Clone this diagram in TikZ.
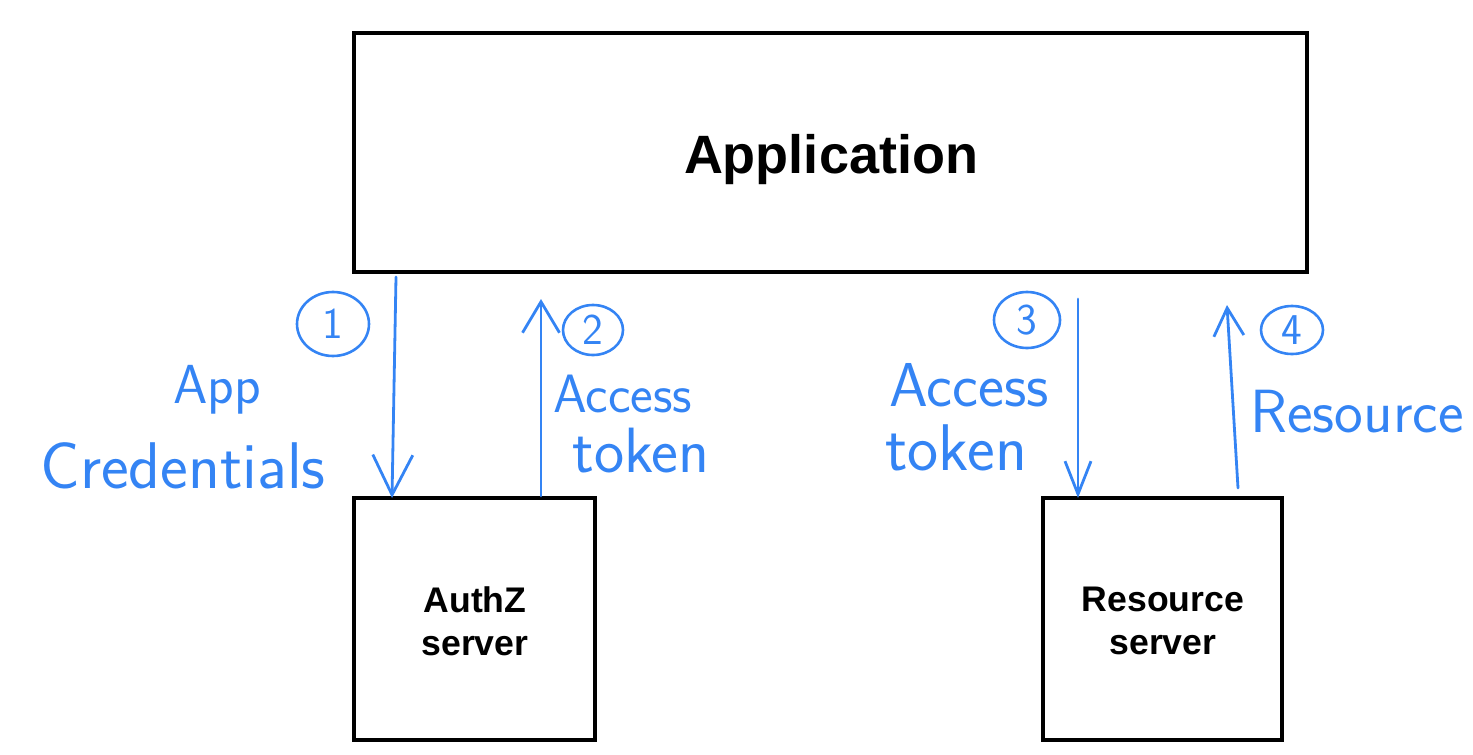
\documentclass[tikz,border=0pt]{standalone}
\usepackage{fontspec}
\setmainfont{Liberation Sans}
\newfontfamily\hand{Latin Modern Sans}
\usetikzlibrary{arrows.meta,calc,shapes.geometric}
\definecolor{pen}{RGB}{52,132,244}
\tikzset{
  box/.style={draw=black, line width=2pt, inner sep=0pt, fill=white},
  boxtext/.style={font=\bfseries\fontsize{17.8pt}{21.5pt}\selectfont, align=center},
  flow/.style={draw=pen, line width=1.4pt, line cap=round},
  hw/.style={text=pen, font=\hand\fontsize{29pt}{30pt}\selectfont, anchor=base west, inner sep=0pt},
  num/.style={ellipse, draw=pen, line width=1.3pt, text=pen, inner sep=0pt, font=\hand\fontsize{22pt}{23pt}\selectfont},
}
\begin{document}
\begin{tikzpicture}[x=0.5pt, y=-0.5pt]
\useasboundingbox (0,0) rectangle (1473,755);
% boxes
\node[box, minimum width=476.5pt, minimum height=119.5pt] (app) at (830.5,152.5) {};
\node[font=\bfseries\fontsize{27pt}{30pt}\selectfont] (apptext) at (831,160) {Application};
\node[box, minimum width=120.5pt, minimum height=121pt] (auth) at (474.5,619) {};
\node[boxtext] (authtext) at (475,621) {AuthZ\\server};
\node[box, minimum width=119.5pt, minimum height=121pt] (res) at (1162.5,619) {};
\node[boxtext] (restext) at (1163,621) {Resource\\server};
% arrows
\draw[flow, -{Straight Barb[length=20pt, width=20pt, line width=1.4pt]}]
  ($(app.south west)+(44,3)$) -- ($(auth.north west)+(40,2)$);
\draw[flow, -{Straight Barb[length=15.5pt, width=18.5pt, line width=1.4pt]}]
  ($(auth.north west)+(189,0)$) -- ($(app.south west)+(189,25)$);
\draw[flow, -{Straight Barb[length=16.5pt, width=13pt, line width=1.4pt]}]
  ($(app.south west)+(726,25)$) -- ($(res.north west)+(37,2)$);
\draw[flow, -{Straight Barb[length=14pt, width=15pt, line width=1.4pt]}]
  ($(res.north west)+(197,-8)$) -- ($(app.south west)+(875,31)$);
% circled numbers
\node[num, minimum width=36pt, minimum height=32pt] (n1) at (333,324) {1};
\node[num, minimum width=30pt, minimum height=25pt] (n2) at (593,330) {2};
\node[num, minimum width=33pt, minimum height=28pt] (n3) at (1027,320) {3};
\node[num, minimum width=31pt, minimum height=24pt] (n4) at (1292,330) {4};
% labels
\node[hw, font=\hand\fontsize{27.5pt}{28pt}\selectfont] (l1a) at (173,403) {App};
\node[hw, font=\hand\fontsize{33pt}{34pt}\selectfont] (l1b) at (40,488) {Credentials};
\node[hw, font=\hand\fontsize{27pt}{28pt}\selectfont] (l2a) at (553,412) {Access};
\node[hw, font=\hand\fontsize{32pt}{33pt}\selectfont] (l2b) at (572,472) {token};
\node[hw, font=\hand\fontsize{31pt}{32pt}\selectfont] (l3a) at (889,406) {Access};
\node[hw, font=\hand\fontsize{33pt}{34pt}\selectfont] (l3b) at (885,470) {token};
\node[hw, font=\hand\fontsize{30.5pt}{31pt}\selectfont] (l4) at (1250,432) {Resource};
\end{tikzpicture}
\end{document}
